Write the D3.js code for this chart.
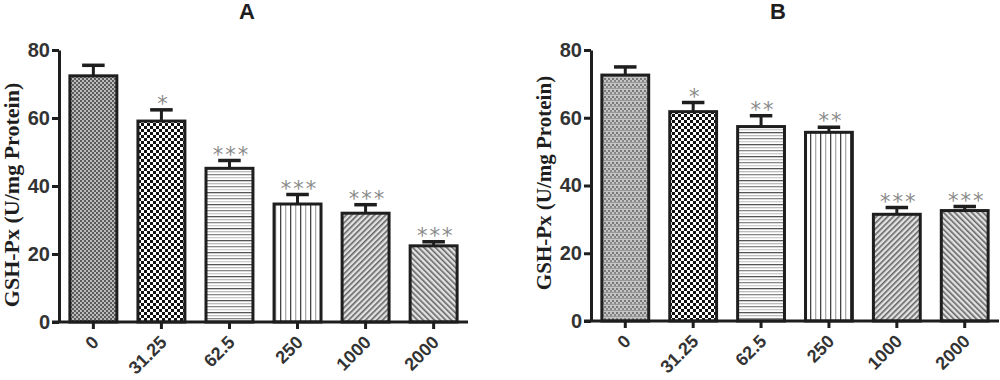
<!DOCTYPE html>
<html>
<head>
<meta charset="utf-8">
<script src="https://cdn.jsdelivr.net/npm/d3@7/dist/d3.min.js"></script>
<style>
  html, body { margin: 0; padding: 0; background: #fff; }
  svg { display: block; }
</style>
</head>
<body>
<svg id="chart" width="1000" height="380"></svg>
<script>
// ---- data ----
const categories = ["0", "31.25", "62.5", "250", "1000", "2000"];
const meanA = [72.4, 59.1, 45.2, 34.7, 32.0, 22.4];
const errA  = [3.1, 3.3, 2.3, 2.8, 2.5, 1.2];
const starsA = ["", "*", "***", "***", "***", "***"];
const meanB = [72.6, 61.8, 57.4, 55.7, 31.5, 32.6];
const errB  = [2.4, 2.7, 3.2, 1.5, 2.0, 1.2];
const starsB = ["", "*", "**", "**", "***", "***"];
const yTicks = [0, 20, 40, 60, 80];
const yLabel = "GSH-Px (U/mg Protein)";
const panelTitles = ["A", "B"];

const svg = d3.select("#chart");
const defs = svg.append("defs");

// ---- fill patterns ----
function pat(id, w, h, draw, transform) {
  const p = defs.append("pattern").attr("id", id)
    .attr("patternUnits", "userSpaceOnUse").attr("width", w).attr("height", h);
  if (transform) p.attr("patternTransform", transform);
  draw(p);
}
pat("pA0", 4, 4, p => {
  p.append("rect").attr("width", 4).attr("height", 4).attr("fill", "#bcbcbc");
  p.append("rect").attr("width", 2).attr("height", 2).attr("fill", "#5a5a5a");
  p.append("rect").attr("x", 2).attr("y", 2).attr("width", 2).attr("height", 2).attr("fill", "#5a5a5a");
});
pat("pB0", 4, 6, p => {
  p.append("rect").attr("width", 4).attr("height", 6).attr("fill", "#c4c4c4");
  p.append("rect").attr("width", 2).attr("height", 2).attr("fill", "#777");
  p.append("rect").attr("x", 2).attr("y", 2).attr("width", 2).attr("height", 2).attr("fill", "#888");
  p.append("rect").attr("y", 4).attr("width", 4).attr("height", 1).attr("fill", "#999");
});
pat("p1", 6, 6, p => {
  p.append("rect").attr("width", 6).attr("height", 6).attr("fill", "#fff");
  p.append("rect").attr("width", 3).attr("height", 3).attr("fill", "#111");
  p.append("rect").attr("x", 3).attr("y", 3).attr("width", 3).attr("height", 3).attr("fill", "#111");
});
pat("p2", 10, 12, p => {
  p.append("rect").attr("width", 10).attr("height", 12).attr("fill", "#fff");
  [[0, "#555"], [3, "#bbb"], [6, "#888"], [9, "#ccc"]].forEach(([y, c]) =>
    p.append("rect").attr("y", y).attr("width", 10).attr("height", 1.3).attr("fill", c));
});
pat("p3", 10, 10, p => {
  p.append("rect").attr("width", 10).attr("height", 10).attr("fill", "#fff");
  p.append("rect").attr("x", 0).attr("width", 1.3).attr("height", 10).attr("fill", "#444");
  p.append("rect").attr("x", 5).attr("width", 1.3).attr("height", 10).attr("fill", "#aaa");
});
pat("p4", 4, 4, p => {
  p.append("rect").attr("width", 4).attr("height", 4).attr("fill", "#e2e2e2");
  p.append("rect").attr("width", 1.6).attr("height", 4).attr("fill", "#666");
}, "rotate(45)");
pat("p5", 4, 4, p => {
  p.append("rect").attr("width", 4).attr("height", 4).attr("fill", "#e2e2e2");
  p.append("rect").attr("width", 1.6).attr("height", 4).attr("fill", "#666");
}, "rotate(-45)");

const panels = [
  { title: panelTitles[0], means: meanA, errs: errA, stars: starsA, fills: ["pA0","p1","p2","p3","p4","p5"],
    xRange: [59, 468], yRange: [322, 50], titleX: 247, labelX: 19, labelY: 195, labelSize: 22 },
  { title: panelTitles[1], means: meanB, errs: errB, stars: starsB, fills: ["pB0","p1","p2","p3","p4","p5"],
    xRange: [591, 999], yRange: [321, 50], titleX: 778, labelX: 551, labelY: 183, labelSize: 21 }
];

const ink = "#1e1e1e";

panels.forEach(P => {
  const g = svg.append("g");
  const x = d3.scaleBand().domain(categories).range(P.xRange).paddingInner(0.31).paddingOuter(0.16);
  const y = d3.scaleLinear().domain([0, 80]).range(P.yRange);
  const axisX = P.xRange[0];

  g.append("text").attr("x", P.titleX).attr("y", 19).attr("text-anchor", "middle")
    .attr("font-family", "Liberation Sans, Arial, sans-serif").attr("font-weight", "bold")
    .attr("font-size", 22).attr("fill", ink).text(P.title);

  g.append("text").attr("transform", `translate(${P.labelX},${P.labelY}) rotate(-90)`)
    .attr("text-anchor", "middle").attr("font-family", "Liberation Serif, Times New Roman, serif")
    .attr("font-weight", "bold").attr("font-size", P.labelSize).attr("fill", ink).text(yLabel);

  const ya = g.append("g").attr("transform", `translate(${axisX},0)`)
    .call(d3.axisLeft(y).tickValues(yTicks).tickSize(7).tickSizeOuter(0).tickPadding(2));
  ya.select(".domain").attr("stroke", ink).attr("stroke-width", 3);
  ya.selectAll(".tick line").attr("stroke", ink).attr("stroke-width", 3);
  ya.selectAll(".tick text").attr("font-family", "Liberation Sans, Arial, sans-serif")
    .attr("font-weight", "bold").attr("font-size", 20).attr("fill", "#333");

  g.selectAll("rect.bar").data(categories).join("rect").attr("class", "bar")
    .attr("x", d => x(d)).attr("width", x.bandwidth())
    .attr("y", (d, i) => y(P.means[i])).attr("height", (d, i) => y(0) - y(P.means[i]))
    .attr("fill", (d, i) => `url(#${P.fills[i]})`)
    .attr("stroke", ink).attr("stroke-width", 3);

  const cap = x.bandwidth() * 0.48;
  categories.forEach((c, i) => {
    const cx = x(c) + x.bandwidth() / 2;
    g.append("line").attr("x1", cx).attr("x2", cx)
      .attr("y1", y(P.means[i])).attr("y2", y(P.means[i] + P.errs[i]))
      .attr("stroke", ink).attr("stroke-width", 3);
    g.append("line").attr("x1", cx - cap / 2).attr("x2", cx + cap / 2)
      .attr("y1", y(P.means[i] + P.errs[i])).attr("y2", y(P.means[i] + P.errs[i]))
      .attr("stroke", ink).attr("stroke-width", 3.5);
    if (P.stars[i]) {
      g.append("text").attr("x", cx + 2).attr("y", y(P.means[i] + P.errs[i]) + 1)
        .attr("text-anchor", "middle").attr("font-family", "DejaVu Sans, sans-serif")
        .attr("font-size", 21).attr("letter-spacing", 2).attr("fill", "#8a8a8a").text(P.stars[i]);
    }
  });

  const xa = g.append("g").attr("transform", `translate(0,${y(0)})`)
    .call(d3.axisBottom(x).tickSize(7).tickSizeOuter(0).tickFormat(() => ""));
  xa.select(".domain").remove();
  xa.selectAll(".tick line").attr("stroke", ink).attr("stroke-width", 3);
  g.append("line").attr("x1", axisX - 7).attr("x2", P.xRange[1])
    .attr("y1", y(0)).attr("y2", y(0)).attr("stroke", ink).attr("stroke-width", 3);

  g.selectAll("text.xl").data(categories).join("text").attr("class", "xl")
    .attr("transform", d => `translate(${x(d) + x.bandwidth() / 2 + 2},${y(0) + 17}) rotate(-45)`)
    .attr("text-anchor", "end").attr("dy", "0.35em")
    .attr("font-family", "Liberation Sans, Arial, sans-serif").attr("font-weight", "bold")
    .attr("font-size", 18).attr("fill", "#333").text(d => d);
});
</script>
</body>
</html>
